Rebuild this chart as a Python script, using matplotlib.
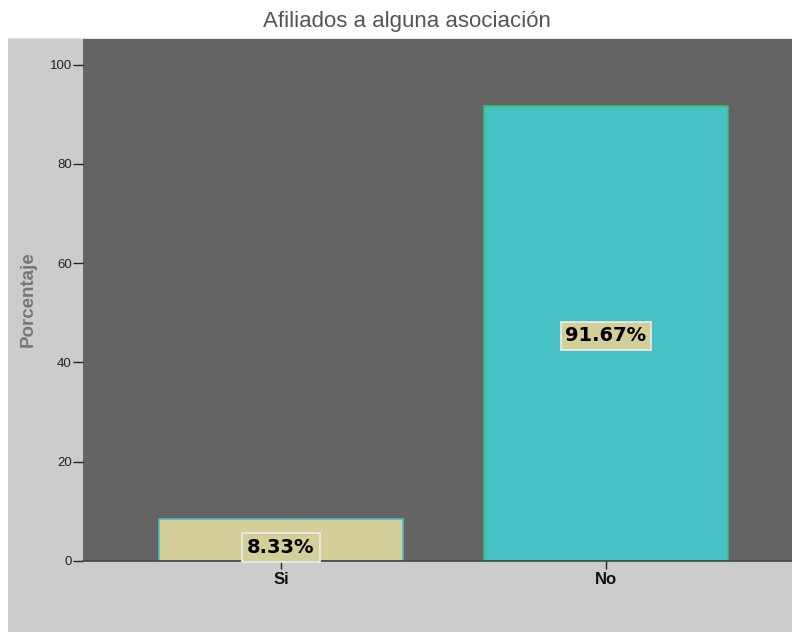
import matplotlib.pyplot as plt

# data
categories = ['Si', 'No']
percentages = [8.33, 91.67]
bar_colors = ['#D4CF98', '#48C1C5']
edge_colors = ['#4BBFC0', '#3DBE6A']
label_texts = ['8.33%', '91.67%']
yticks = [0, 20, 40, 60, 80, 100]

fig = plt.figure(figsize=(7.92, 6.32), dpi=100)
fig.patch.set_facecolor('white')

# light grey outer frame of the chart
bg = fig.add_axes([8 / 792, 0, 1 - 8 / 792, 1 - 38 / 632], zorder=-1)
bg.set_facecolor('#CCCCCC')
bg.set_xticks([])
bg.set_yticks([])
for s in bg.spines.values():
    s.set_visible(False)
bg.spines['top'].set_visible(True)
bg.spines['top'].set_color('#E2E2E2')

ax = fig.add_axes([83 / 792, 1 - 560.7 / 632, 1 - 83 / 792, (560.7 - 39) / 632])
ax.set_facecolor('#646464')

x = range(len(categories))
ax.bar(x, percentages, width=0.75, color=bar_colors, edgecolor=edge_colors,
       linewidth=1.2, zorder=2)

# value labels in boxes
for i, (v, t) in enumerate(zip(percentages, label_texts)):
    ypos = v / 2 - 0.5 if v > 20 else 2.6
    ax.text(i, ypos, t, ha='center', va='center', fontsize=14,
            fontweight='bold', family='DejaVu Sans', color='black', zorder=3,
            bbox=dict(boxstyle='square,pad=0.25', facecolor='#D4CF98',
                      edgecolor='#EEEEEE', linewidth=1.2))

ax.set_xlim(-0.609, 1.572)
ax.set_ylim(0, 105.2)
ax.set_xticks(list(x))
ax.set_xticklabels(categories, fontsize=12, fontweight='bold',
                   family='Liberation Sans', color='#111111')
ax.set_yticks(yticks)
ax.set_yticklabels([str(t) for t in yticks], fontsize=9.5,
                   family='Liberation Sans', color='#222222')
ax.tick_params(axis='y', length=7, width=1, color='#222222', pad=1)
ax.tick_params(axis='x', length=6, width=1, color='#222222', pad=2)

for side in ['top', 'right', 'left']:
    ax.spines[side].set_visible(False)
ax.spines['bottom'].set_color('#444444')
ax.spines['bottom'].set_linewidth(1.2)

fig.text(407 / 792, 1 - 21 / 632, 'Afiliados a alguna asociación',
         ha='center', va='center', fontsize=16, family='Liberation Sans',
         color='#555555')
fig.text(28 / 792, 1 - 299 / 632, 'Porcentaje', rotation=90,
         ha='center', va='center', fontsize=13.5, fontweight='bold',
         family='Liberation Sans', color='#777777')

fig.savefig('out.png', dpi=100)
